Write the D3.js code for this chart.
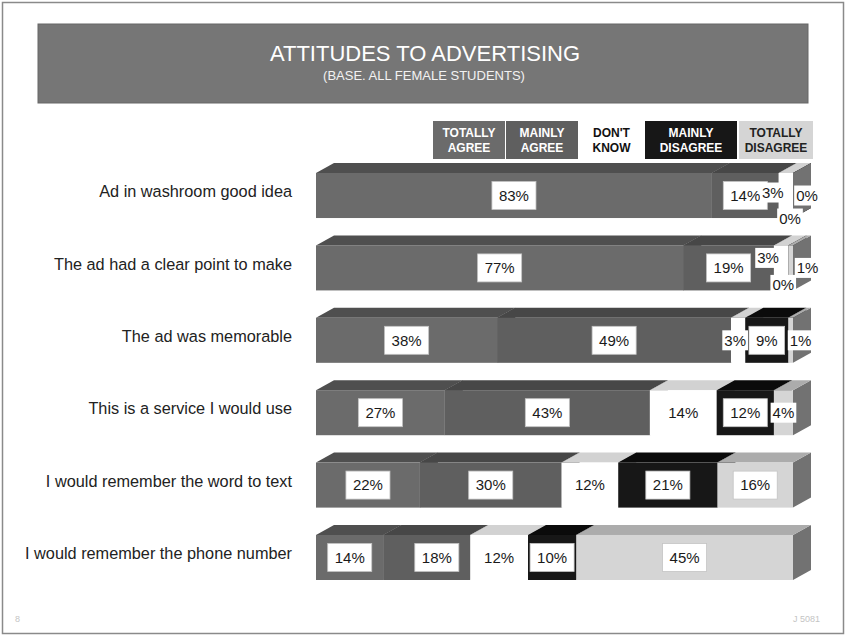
<!DOCTYPE html>
<html>
<head>
<meta charset="utf-8">
<script src="https://cdn.jsdelivr.net/npm/d3@7"></script>
<style>
  body { margin: 0; background: #fff; }
  svg { display: block; }
  text { font-family: Arial, "Liberation Sans", Helvetica, sans-serif; }
</style>
</head>
<body>
<svg id="chart" width="846" height="636"></svg>
<script>
// Survey statements (one stacked bar each)
const categories = [
  "Ad in washroom good idea",
  "The ad had a clear point to make",
  "The ad was memorable",
  "This is a service I would use",
  "I would remember the word to text",
  "I would remember the phone number"
];

// Answer categories, in stacking order
const seriesKeys = ["totallyAgree", "mainlyAgree", "dontKnow", "mainlyDisagree", "totallyDisagree"];
const legendLines = [
  ["TOTALLY", "AGREE"],
  ["MAINLY", "AGREE"],
  ["DON'T", "KNOW"],
  ["MAINLY", "DISAGREE"],
  ["TOTALLY", "DISAGREE"]
];

// Percentages per statement
const totallyAgree    = [83, 77, 38, 27, 22, 14];
const mainlyAgree     = [14, 19, 49, 43, 30, 18];
const dontKnow        = [ 3,  3,  3, 14, 12, 12];
const mainlyDisagree  = [ 0,  0,  9, 12, 21, 10];
const totallyDisagree = [ 0,  1,  1,  4, 16, 45];

const titleText = "ATTITUDES TO ADVERTISING";
const subtitleText = "(BASE. ALL FEMALE STUDENTS)";

// ---- styling ----
const fills = {
  totallyAgree:    { front: "#6b6b6b", top: "#4f4f4f", side: "#4a4a4a", text: "#fff" },
  mainlyAgree:     { front: "#5f5f5f", top: "#474747", side: "#404040", text: "#fff" },
  dontKnow:        { front: "#ffffff", top: "#d2d2d2", side: "#bdbdbd", text: "#111" },
  mainlyDisagree:  { front: "#171717", top: "#0b0b0b", side: "#000000", text: "#fff" },
  totallyDisagree: { front: "#d5d5d5", top: "#acacac", side: "#727272", text: "#222" }
};

// Label offsets for slivers whose labels would collide (row-series)
const labelNudge = {
  "0-2": [-13, -3], "0-3": [-3, 23], "0-4": [14, 0],
  "1-2": [-13, -10], "1-3": [-5, 17], "1-4": [17, 0],
  "2-2": [-3, 0], "2-4": [10, 0],
  "5-1": [10, 0]
};

const svg = d3.select("#chart");
const W = 846, H = 636;

// Slide frame
svg.append("rect").attr("x", 2.5).attr("y", 2.5).attr("width", W - 5).attr("height", H - 5)
  .attr("fill", "#fff").attr("stroke", "#8a8a8a").attr("stroke-width", 1.5);

// Title banner
svg.append("rect").attr("x", 38).attr("y", 24).attr("width", 770).attr("height", 79)
  .attr("fill", "#767676").attr("stroke", "#666").attr("stroke-width", 1);
svg.append("text").attr("x", 425).attr("y", 61).attr("text-anchor", "middle")
  .attr("fill", "#fff").attr("font-size", 22).text(titleText);
svg.append("text").attr("x", 424).attr("y", 80).attr("text-anchor", "middle")
  .attr("fill", "#f2f2f2").attr("font-size", 13).text(subtitleText);

// Legend
const legendX = [433, 506, 580, 645, 739];
const legendW = [72, 72, 63, 92, 74];
const legend = svg.append("g");
seriesKeys.forEach((k, i) => {
  const g = legend.append("g").attr("transform", `translate(${legendX[i]},121)`);
  if (k !== "dontKnow") {
    g.append("rect").attr("width", legendW[i]).attr("height", 38).attr("fill", fills[k].front);
  }
  g.selectAll("text").data(legendLines[i]).join("text")
    .attr("x", legendW[i] / 2).attr("y", (d, j) => 16 + j * 15)
    .attr("text-anchor", "middle").attr("font-size", 12).attr("font-weight", "bold")
    .attr("fill", fills[k].text)
    .text(d => d);
});

// ---- data table ----
const rows = categories.map((c, i) => ({
  category: c,
  totallyAgree: totallyAgree[i],
  mainlyAgree: mainlyAgree[i],
  dontKnow: dontKnow[i],
  mainlyDisagree: mainlyDisagree[i],
  totallyDisagree: totallyDisagree[i]
}));

const stacked = d3.stack().keys(seriesKeys).offset(d3.stackOffsetExpand)(rows);

const x = d3.scaleLinear().domain([0, 1]).range([316, 793]);
const y = d3.scaleBand().domain(categories).range([173, 580]).paddingInner(0.378).paddingOuter(0);
const depthX = 18, depthY = 10;

// Category labels (axis without line/ticks)
const yAxis = d3.axisLeft(y).tickSize(0).tickPadding(0);
const axisG = svg.append("g").attr("transform", "translate(292,0)").call(yAxis);
axisG.select(".domain").remove();
axisG.selectAll("text").attr("font-size", 16.3).attr("fill", "#222")
  .attr("font-family", "Arial, 'Liberation Sans', sans-serif").attr("dy", "0.1em");

// 3D stacked bars
const bars = svg.append("g");
categories.forEach((cat, r) => {
  const yt = y(cat), yb = yt + y.bandwidth();
  stacked.forEach((layer, s) => {
    const k = layer.key;
    const x0 = x(layer[r][0]), x1 = x(layer[r][1]);
    const g = bars.append("g");
    // side face
    g.append("path")
      .attr("d", `M${x1},${yt}L${x1 + depthX},${yt - depthY}L${x1 + depthX},${yb - depthY}L${x1},${yb}Z`)
      .attr("fill", fills[k].side);
    // top face
    g.append("path")
      .attr("d", `M${x0},${yt}L${x0 + depthX},${yt - depthY}L${x1 + depthX},${yt - depthY}L${x1},${yt}Z`)
      .attr("fill", fills[k].top);
    // front face
    g.append("rect").attr("x", x0).attr("y", yt).attr("width", Math.max(0, x1 - x0)).attr("height", yb - yt)
      .attr("fill", fills[k].front);
  });
});

// Value labels
const labels = svg.append("g");
categories.forEach((cat, r) => {
  const yc = y(cat) + y.bandwidth() / 2;
  stacked.forEach((layer, s) => {
    const v = rows[r][layer.key];
    const nud = labelNudge[`${r}-${s}`] || [0, 0];
    const cx = (x(layer[r][0]) + x(layer[r][1])) / 2 + nud[0];
    const cy = yc + nud[1];
    const g = labels.append("g");
    const t = g.append("text").attr("x", cx).attr("y", cy).attr("dy", "0.36em")
      .attr("text-anchor", "middle").attr("font-size", 15).attr("fill", "#1a1a1a")
      .text(v + "%");
    const tw = t.node().getComputedTextLength();
    const small = v < 5;
    g.insert("rect", "text")
      .attr("x", cx - tw / 2 - (small ? 2 : 7)).attr("y", cy - (small ? 10 : 14))
      .attr("width", tw + (small ? 4 : 14)).attr("height", small ? 20 : 28)
      .attr("fill", "#fff").attr("stroke", small || layer.key === "dontKnow" ? "none" : "#c4c4c4").attr("stroke-width", 0.8);
  });
});

// Footer marks
svg.append("text").attr("x", 15).attr("y", 622).attr("font-size", 9).attr("fill", "#c4c4c4").text("8");
svg.append("text").attr("x", 820).attr("y", 622).attr("text-anchor", "end").attr("font-size", 9).attr("fill", "#c4c4c4").text("J 5081");
</script>
</body>
</html>
